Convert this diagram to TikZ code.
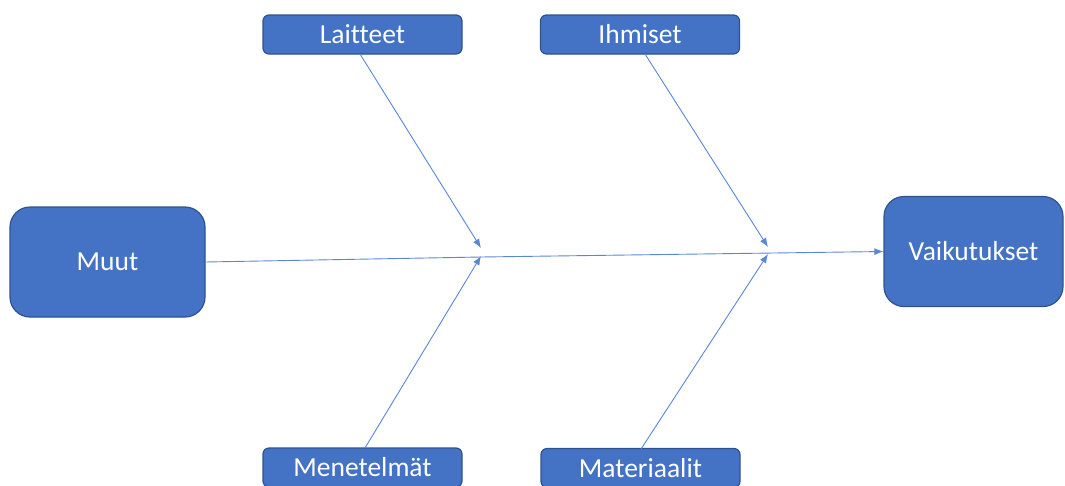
\documentclass[tikz,border=0pt]{standalone}
\usepackage{fontspec}
\setmainfont{Carlito}[Ligatures=NoCommon]
\usetikzlibrary{arrows.meta}
\definecolor{boxfill}{HTML}{4472C4}
\definecolor{boxline}{HTML}{2F528F}
\definecolor{arrowc}{HTML}{5B86D6}
\begin{document}
\begin{tikzpicture}[x=1pt,y=-1pt,
  catbox/.style={draw=boxline, line width=1.2pt, fill=boxfill, rounded corners=6pt,
    minimum width=199pt, minimum height=39pt, inner sep=0pt, text=white,
    font=\fontsize{27.5}{32}\selectfont},
  bigbox/.style={draw=boxline, line width=1.2pt, fill=boxfill, rounded corners=20pt,
    minimum height=110pt, inner sep=0pt, text=white,
    font=\fontsize{27.5}{32}\selectfont},
  conn/.style={draw=arrowc, line width=0.9pt, -{Latex[length=9pt,width=7pt]}}
]
\useasboundingbox (0,0) rectangle (1065,485);
\node[catbox] (lai) at (362.5,34.5) {Laitteet};
\node[catbox] (ihm) at (640,34.5) {Ihmiset};
\node[catbox] (men) at (362.5,467.5) {Menetelmät};
\node[catbox] (mat) at (640.5,468) {Materiaalit};
\node[bigbox, minimum width=195pt] (muu) at (107.5,262) {Muut};
\node[bigbox, minimum width=179pt] (vai) at (973.5,251.5) {Vaikutukset};
\coordinate (j1) at (481,257);
\coordinate (j2) at (768,253);
\coordinate (j1t) at (481,248);
\coordinate (j1b) at (481,256);
\coordinate (j2t) at (768,247);
\coordinate (j2b) at (768,254);
\draw[draw=arrowc, line width=0.9pt] (muu.east |- 0,262) -- (j1);
\draw[conn] (j1) -- (vai.west);
\draw[conn] (360,54) -- (j1t);
\draw[conn] (365,448) -- (j1b);
\draw[conn] (645,54) -- (j2t);
\draw[conn] (641,449) -- (j2b);
\end{tikzpicture}
\end{document}
